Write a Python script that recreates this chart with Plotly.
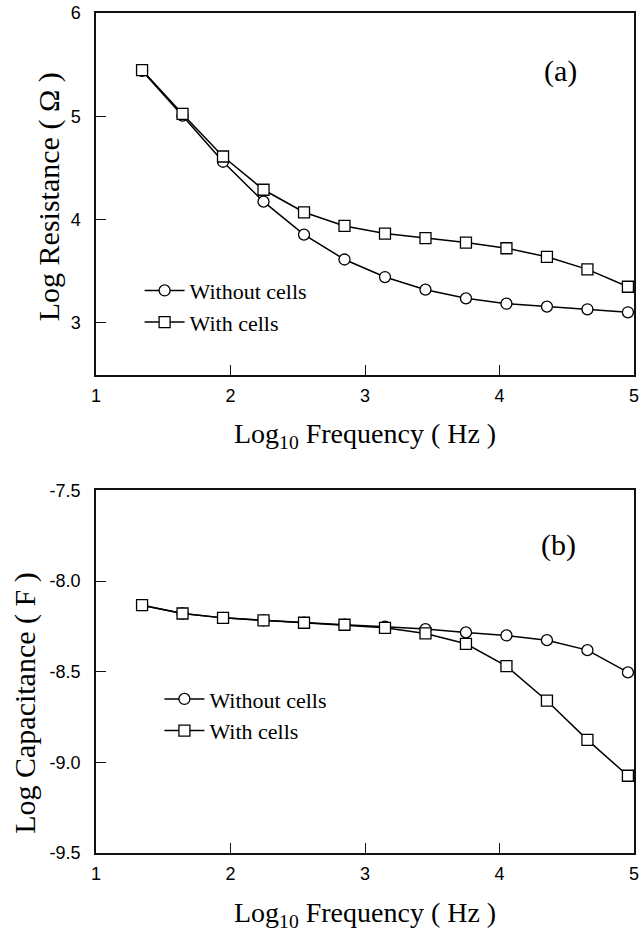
import math
import plotly.graph_objects as go

# Data
freq_hz = [22, 44, 88, 176, 352, 704, 1408, 2816, 5632, 11264, 22528, 45056, 90112]
log_freq = [math.log10(f) for f in freq_hz]

res_without = [5.44, 5.006, 4.56, 4.174, 3.855, 3.614, 3.444, 3.322, 3.238, 3.186, 3.158, 3.132, 3.103]
res_with = [5.447, 5.023, 4.611, 4.289, 4.071, 3.939, 3.865, 3.820, 3.778, 3.723, 3.640, 3.518, 3.350]

cap_without = [-8.133, -8.179, -8.203, -8.217, -8.230, -8.241, -8.252, -8.265, -8.283, -8.300, -8.326, -8.381, -8.504]
cap_with = [-8.133, -8.179, -8.203, -8.217, -8.230, -8.241, -8.258, -8.289, -8.346, -8.469, -8.660, -8.876, -9.074]

series_names = ["Without cells", "With cells"]
x_ticks = [1, 2, 3, 4, 5]
res_ticks = [3, 4, 5, 6]
cap_ticks = [-9.5, -9.0, -8.5, -8.0, -7.5]
cap_tick_text = ["-9.5", "-9.0", "-8.5", "-8.0", "-7.5"]

SERIF = "Liberation Serif, Times New Roman, serif"
SANS = "Liberation Sans, Arial, sans-serif"

fig = go.Figure()

def add(x, y, name, symbol, xa, ya, legend):
    fig.add_trace(go.Scatter(
        x=x, y=y, name=name, mode="lines+markers",
        line=dict(color="black", width=1.5),
        marker=dict(symbol=symbol, size=11, color="white",
                    line=dict(color="black", width=1.3)),
        xaxis=xa, yaxis=ya, legend=legend,
    ))

add(log_freq, res_without, series_names[0], "circle", "x", "y", "legend")
add(log_freq, res_with, series_names[1], "square", "x", "y", "legend")
add(log_freq, cap_without, series_names[0], "circle", "x2", "y2", "legend2")
add(log_freq, cap_with, series_names[1], "square", "x2", "y2", "legend2")

W, H = 642, 939
ml, mr, mt, mb = 96, 3, 12, 86
pw = W - ml - mr
ph = H - mt - mb
top_dom = [(853 - 374) / ph, 1.0]
bot_dom = [0.0, (853 - 490) / ph]

def px_x(p):
    return (p - ml) / pw

def px_y(p):
    return (853 - p) / ph

axis_common = dict(
    showline=True, linecolor="#111", linewidth=1.5, mirror=True,
    ticks="inside", ticklen=10, tickwidth=1, tickcolor="#111",
    showgrid=False, zeroline=False, ticklabeloverflow="allow",
    tickfont=dict(family=SANS, size=18, color="black"),
)

legend_common = dict(xanchor="left", yanchor="middle", bgcolor="rgba(0,0,0,0)",
                     font=dict(family=SERIF, size=22, color="black"),
                     itemwidth=40, tracegroupgap=0)

fig.update_layout(
    width=W, height=H,
    margin=dict(l=ml, r=mr, t=mt, b=mb),
    paper_bgcolor="white", plot_bgcolor="white",
    xaxis=dict(axis_common, domain=[0, 1], range=[1, 5], tickvals=x_ticks,
               anchor="y", ticklabelstandoff=4),
    yaxis=dict(axis_common, domain=top_dom, range=[2.5, 6], tickvals=res_ticks,
               anchor="x", ticklabelstandoff=10),
    xaxis2=dict(axis_common, domain=[0, 1], range=[1, 5], tickvals=x_ticks,
                anchor="y2", ticklabelstandoff=4),
    yaxis2=dict(axis_common, domain=bot_dom, range=[-9.5, -7.5], tickvals=cap_ticks,
                ticktext=cap_tick_text, anchor="x2", ticklabelstandoff=10),
    legend=dict(legend_common, x=px_x(140), y=px_y(306)),
    legend2=dict(legend_common, x=px_x(160), y=px_y(715)),
    showlegend=True,
)

ann_font = dict(family=SERIF, size=28, color="black")
ytitle_font = dict(family=SERIF, size=30, color="black")
fig.add_annotation(text="(a)", x=4.45, y=5.44, xref="x", yref="y",
                   showarrow=False, font=dict(family=SERIF, size=30, color="black"))
fig.add_annotation(text="(b)", x=4.44, y=-7.80, xref="x2", yref="y2",
                   showarrow=False, font=dict(family=SERIF, size=30, color="black"))

# axis titles
fig.add_annotation(text="Log Resistance ( Ω )", xref="paper", yref="paper",
                   x=px_x(48), y=px_y(196), xanchor="center", yanchor="middle",
                   textangle=-90, showarrow=False, font=ytitle_font)
fig.add_annotation(text="Log Capacitance ( F )", xref="paper", yref="paper",
                   x=px_x(25), y=px_y(703), xanchor="center", yanchor="middle",
                   textangle=-90, showarrow=False, font=ytitle_font)
fig.add_annotation(text="Log<sub>10</sub> Frequency ( Hz )", xref="paper", yref="paper",
                   x=0.5, y=px_y(435), xanchor="center", yanchor="middle",
                   showarrow=False, font=ann_font)
fig.add_annotation(text="Log<sub>10</sub> Frequency ( Hz )", xref="paper", yref="paper",
                   x=0.5, y=px_y(915), xanchor="center", yanchor="middle",
                   showarrow=False, font=ann_font)

fig.write_html("out.html")
